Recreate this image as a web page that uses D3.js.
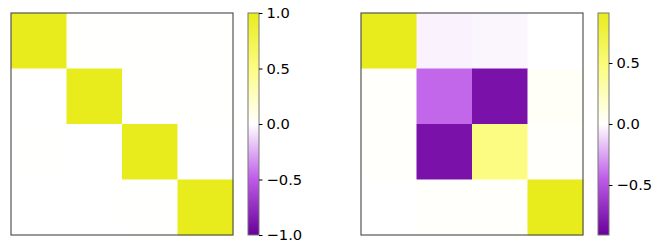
<!DOCTYPE html>
<html><head><meta charset="utf-8">
<script src="https://cdn.jsdelivr.net/npm/d3@7"></script>
<style>html,body{margin:0;padding:0;background:#fff;} svg{display:block;font-family:"DejaVu Sans",sans-serif;}</style>
</head><body><div id="c"></div>
<script>
const rows = [0,1,2,3];
const cols = [0,1,2,3];
const leftValues = [
  [1.0, 0.004, 0.004, 0.004],
  [0.0, 1.0, 0.004, 0.004],
  [0.006, 0.0, 1.0, 0.0],
  [0.0, 0.0, 0.004, 1.0]
];
const rightValues = [
  [0.91, -0.035, -0.028, 0.0],
  [0.015, -0.42, -0.82, 0.025],
  [0.01, -0.82, 0.45, 0.01],
  [0.0, 0.015, 0.015, 0.91]
];
const leftRange = [-1.0, 1.0];
const rightRange = [-0.91, 0.91];
const leftTicks = [-1.0, -0.5, 0.0, 0.5, 1.0];
const rightTicks = [-0.5, 0.0, 0.5];
const cmapStops = [-1, -0.5, 0, 0.5, 1];
const cmapColors = ["#69009a", "#be5ae8", "#ffffff", "#fcfc82", "#e8ec1c"];

const W = 665, H = 251;
const svg = d3.select("#c").append("svg").attr("width", W).attr("height", H);
const cmap = d3.scaleLinear().domain(cmapStops).range(cmapColors).clamp(true);
const fmt = d => (d < 0 ? "\u2212" : "") + Math.abs(d).toFixed(1);

function panel(x0, values, range, ticks, id) {
  const top = 13, size = 222;
  const x = d3.scaleBand().domain(cols).range([x0, x0 + size]);
  const y = d3.scaleBand().domain(rows).range([top, top + size]);
  const norm = d3.scaleLinear().domain(range).range([-1, 1]);
  const g = svg.append("g");
  values.forEach((row, i) => row.forEach((v, j) => {
    g.append("rect").attr("x", x(j)).attr("y", y(i))
      .attr("width", x.bandwidth()+0.5).attr("height", y.bandwidth()+0.5)
      .attr("fill", cmap(norm(v)));
  }));
  g.append("rect").attr("x", x0).attr("y", top).attr("width", size).attr("height", size)
    .attr("fill", "none").attr("stroke", "#555").attr("stroke-width", 1.2);

  // colorbar
  const cbx = x0 + 237, cbw = 11;
  const cy = d3.scaleLinear().domain(range).range([top + size, top]);
  const grad = svg.append("defs").append("linearGradient").attr("id", id)
    .attr("x1", 0).attr("y1", 1).attr("x2", 0).attr("y2", 0);
  d3.range(0, 1.0001, 0.05).forEach(t => {
    grad.append("stop").attr("offset", t).attr("stop-color", cmap(-1 + 2 * t));
  });
  svg.append("rect").attr("x", cbx).attr("y", top).attr("width", cbw).attr("height", size)
    .attr("fill", `url(#${id})`).attr("stroke", "#777").attr("stroke-width", 1);
  const ax = svg.append("g").attr("transform", `translate(${cbx + cbw},0)`)
    .call(d3.axisRight(cy).tickValues(ticks).tickFormat(fmt).tickSize(3.5).tickPadding(4));
  ax.select(".domain").remove();
  ax.selectAll("line").attr("stroke", "#000").attr("stroke-width", 1);
  ax.selectAll("text").attr("font-size", 14.7).attr("fill", "#000")
    .attr("font-family", "DejaVu Sans, sans-serif");
}
panel(11, leftValues, leftRange, leftTicks, "g1");
panel(361, rightValues, rightRange, rightTicks, "g2");
</script></body></html>
